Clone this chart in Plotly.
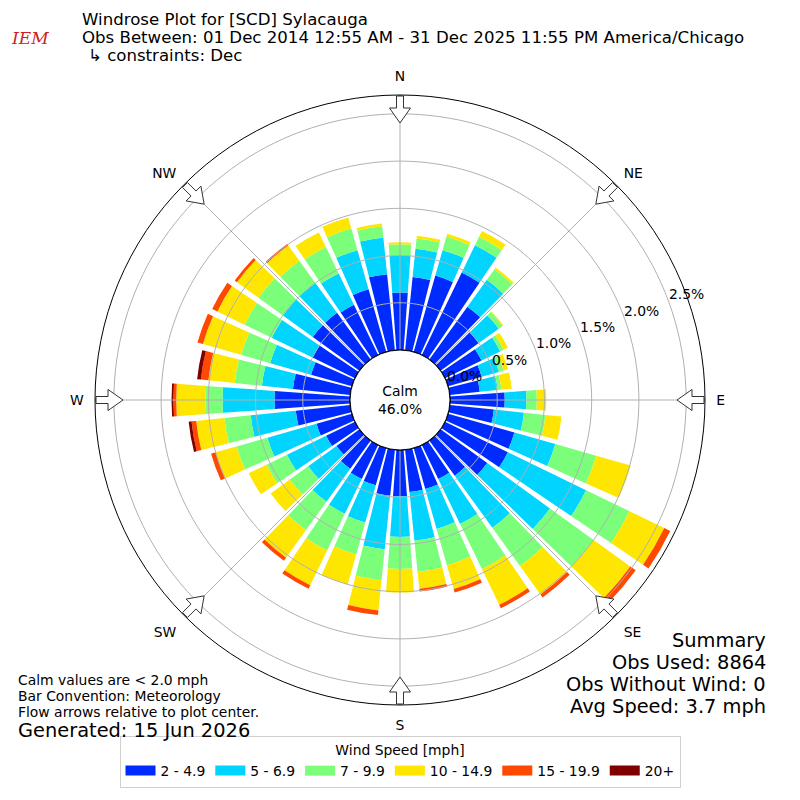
import math
import plotly.graph_objects as go

# ---------------- data ----------------
directions = list(range(0, 360, 10))
speed_bins = ["2 - 4.9", "5 - 6.9", "7 - 9.9", "10 - 14.9", "15 - 19.9", "20+"]
bin_colors = ["#002BFF", "#00D4FF", "#7BFF7B", "#FFE600", "#FF4800", "#800000"]

pct_2_5 = [0.61, 0.78, 0.84, 0.97, 0.69, 0.50, 0.43, 0.37, 0.32, 0.58, 0.47, 0.73,
           0.74, 0.61, 0.46, 0.40, 0.45, 0.45, 0.49, 0.49, 0.41, 0.40, 0.37, 0.30,
           0.34, 0.39, 0.58, 0.80, 0.61, 0.45, 0.50, 0.61, 0.61, 0.59, 0.69, 0.81]
pct_5_7 = [0.39, 0.30, 0.28, 0.32, 0.35, 0.26, 0.22, 0.19, 0.19, 0.23, 0.32, 0.45,
           0.92, 0.82, 0.68, 0.53, 0.44, 0.52, 0.43, 0.57, 0.41, 0.41, 0.43, 0.37,
           0.46, 0.54, 0.48, 0.55, 0.33, 0.45, 0.48, 0.39, 0.39, 0.37, 0.43, 0.39]
pct_7_10 = [0.12, 0.11, 0.15, 0.10, 0.14, 0.05, 0.04, 0.05, 0.04, 0.11, 0.23, 0.45,
            0.51, 0.57, 0.50, 0.53, 0.40, 0.33, 0.34, 0.33, 0.35, 0.43, 0.37, 0.24,
            0.24, 0.34, 0.28, 0.18, 0.29, 0.32, 0.32, 0.32, 0.29, 0.31, 0.24, 0.12]
pct_10_15 = [0.02, 0.03, 0.03, 0.07, 0.02, 0.01, 0.05, 0.05, 0.11, 0.10, 0.17, 0.38,
             0.41, 0.48, 0.37, 0.42, 0.26, 0.18, 0.25, 0.32, 0.33, 0.41, 0.36, 0.25,
             0.21, 0.23, 0.30, 0.31, 0.28, 0.42, 0.32, 0.28, 0.20, 0.17, 0.12, 0.03]
pct_15_20 = [0.00, 0.00, 0.00, 0.00, 0.00, 0.00, 0.00, 0.00, 0.00, 0.00, 0.00, 0.00,
             0.07, 0.07, 0.04, 0.04, 0.04, 0.03, 0.00, 0.05, 0.00, 0.04, 0.04, 0.00,
             0.00, 0.05, 0.05, 0.03, 0.08, 0.06, 0.06, 0.03, 0.02, 0.00, 0.00, 0.00]
pct_20p = [0.00, 0.00, 0.00, 0.00, 0.00, 0.00, 0.00, 0.00, 0.00, 0.00, 0.00, 0.00,
           0.00, 0.00, 0.00, 0.00, 0.00, 0.00, 0.00, 0.00, 0.00, 0.00, 0.00, 0.00,
           0.00, 0.00, 0.03, 0.02, 0.04, 0.00, 0.00, 0.00, 0.00, 0.00, 0.00, 0.00]
series = [pct_2_5, pct_5_7, pct_7_10, pct_10_15, pct_15_20, pct_20p]

radial_ticks = [0.0, 0.5, 1.0, 1.5, 2.0, 2.5]
radial_labels = ["0.0%", "0.5%", "1.0%", "1.5%", "2.0%", "2.5%"]
compass_angles = [0, 45, 90, 135, 180, 225, 270, 315]
compass_labels = ["N", "NE", "E", "SE", "S", "SW", "W", "NW"]

calm_pct = "46.0%"
title_lines = ["Windrose Plot for [SCD] Sylacauga",
               "Obs Between: 01 Dec 2014 12:55 AM - 31 Dec 2025 11:55 PM America/Chicago",
               "\u21b3 constraints: Dec"]
note_lines = ["Calm values are < 2.0 mph", "Bar Convention: Meteorology",
              "Flow arrows relative to plot center."]
generated = "Generated: 15 Jun 2026"
summary_lines = ["Summary", "Obs Used: 8864", "Obs Without Wind: 0", "Avg Speed: 3.7 mph"]

# ---------------- layout constants (page pixels) ----------------
OFF = 8                      # page body margin
FW = FH = 784                # figure size so that it fits the 800px window
CX, CY = 400, 400            # plot center on the page
R_OUT = 305.0
R_HOLE = 50.0
R_MAX = 2.70
PX_PER_UNIT = (R_OUT - R_HOLE) / R_MAX
BAR_WIDTH = 8.3
FONT = "DejaVu Sans"
GRID = "#b0b0b0"
SMALL = 13.9
LABEL_ANGLE = 20.3           # radial labels direction (deg, ccw from east)
LABEL_PUSH = 19              # radial label offset outward (px)


def px(x):
    return (x - OFF) / FW


def py(y):
    return 1 - (y - OFF) / FH


fig = go.Figure()

for name, vals, col in zip(speed_bins, series, bin_colors):
    fig.add_trace(go.Barpolar(
        r=vals, theta=directions, width=[BAR_WIDTH] * len(directions),
        name=name, legendgroup=name, showlegend=False,
        marker=dict(color=col, line=dict(width=0)), hoverinfo="skip"))
    # legend entry drawn as a wide colour patch like the reference
    fig.add_trace(go.Scatterpolar(
        r=[None], theta=[None], mode="lines", name=name, legendgroup=name,
        line=dict(color=col, width=10), hoverinfo="skip"))

# grid circles / spokes drawn above the bars, as in the reference
circ_t = [i * 2 for i in range(181)]
for rv in radial_ticks[1:]:
    fig.add_trace(go.Scatterpolar(r=[rv] * len(circ_t), theta=circ_t, mode="lines",
                                  line=dict(color=GRID, width=1), showlegend=False,
                                  hoverinfo="skip"))
for a in compass_angles:
    fig.add_trace(go.Scatterpolar(r=[0, R_MAX], theta=[a, a], mode="lines",
                                  line=dict(color=GRID, width=1), showlegend=False,
                                  hoverinfo="skip"))
# calm circle edge
fig.add_trace(go.Scatterpolar(r=[0] * len(circ_t), theta=circ_t, mode="lines",
                              line=dict(color="black", width=1.2), showlegend=False,
                              hoverinfo="skip"))


# flow arrows (decoration) pointing to the center
def arrow(theta):
    pts = [(277, 0), (292, 10.5), (292, 3.5), (304, 3.5), (304, -3.5),
           (292, -3.5), (292, -10.5), (277, 0)]
    rr, tt = [], []
    for a, w in pts:
        rp = math.hypot(a, w)
        rr.append((rp - R_HOLE) / PX_PER_UNIT)
        tt.append(theta + math.degrees(math.atan2(w, a)))
    return rr, tt


for a in compass_angles:
    rr, tt = arrow(a)
    fig.add_trace(go.Scatterpolar(r=rr, theta=tt, mode="lines", fill="toself",
                                  fillcolor="white", line=dict(color="#333333", width=1),
                                  showlegend=False, hoverinfo="skip"))

fig.update_layout(
    width=FW, height=FH, margin=dict(l=0, r=0, t=0, b=0),
    paper_bgcolor="white", plot_bgcolor="white",
    font=dict(family=FONT, size=SMALL, color="black"),
    polar=dict(
        domain=dict(x=[px(CX - R_OUT), px(CX + R_OUT)], y=[py(CY + R_OUT), py(CY - R_OUT)]),
        hole=R_HOLE / R_OUT,
        bgcolor="white",
        barmode="stack",
        radialaxis=dict(range=[0, R_MAX], tickvals=radial_ticks, showticklabels=False,
                        showline=False, ticks="", showgrid=False),
        angularaxis=dict(rotation=90, direction="clockwise", tickvals=compass_angles,
                         ticktext=compass_labels, showline=True, linecolor="black",
                         linewidth=1, showgrid=False, ticks="outside", ticklen=8,
                         tickcolor="rgba(0,0,0,0)", tickfont=dict(size=SMALL, color="black")),
    ),
    legend=dict(orientation="h", x=px(400), xanchor="center", y=py(788),
                yanchor="bottom", bordercolor="#d0d0d0", borderwidth=1,
                bgcolor="white", font=dict(size=SMALL), itemwidth=30,
                traceorder="normal", tracegroupgap=0,
                title=dict(text="Wind Speed [mph]", side="top center", font=dict(size=SMALL))),
)

ann = []
for i, t in enumerate(title_lines):
    ann.append(dict(text=t, x=px(80 if i < 2 else 86), y=py(20 + 18 * i),
                    xref="paper", yref="paper", xanchor="left", yanchor="middle",
                    showarrow=False, font=dict(size=16.6)))
ann.append(dict(text="IEM", x=px(30), y=py(38), xref="paper", yref="paper",
                xanchor="center", yanchor="middle", showarrow=False,
                font=dict(size=17, color="#cc2222", family="DejaVu Serif", style="italic")))
for i, t in enumerate(note_lines):
    ann.append(dict(text=t, x=px(16), y=py(680 + 16 * i), xref="paper", yref="paper",
                    xanchor="left", yanchor="middle", showarrow=False, font=dict(size=SMALL)))
ann.append(dict(text=generated, x=px(16), y=py(730), xref="paper", yref="paper",
                xanchor="left", yanchor="middle", showarrow=False, font=dict(size=19.4)))
for i, t in enumerate(summary_lines):
    ann.append(dict(text=t, x=px(768), y=py(640 + 22 * i), xref="paper", yref="paper",
                    xanchor="right", yanchor="middle", showarrow=False, font=dict(size=19.4)))
ann.append(dict(text="Calm<br>" + calm_pct, x=px(CX), y=py(CY), xref="paper", yref="paper",
                xanchor="center", yanchor="middle", showarrow=False, font=dict(size=SMALL)))
# radial tick labels, positioned from the radial scale
ca, sa = math.cos(math.radians(LABEL_ANGLE)), math.sin(math.radians(LABEL_ANGLE))
for v, lab in zip(radial_ticks, radial_labels):
    rp = R_HOLE + v * PX_PER_UNIT + LABEL_PUSH
    ann.append(dict(text=lab, x=px(CX + rp * ca), y=py(CY - rp * sa), xref="paper",
                    yref="paper", xanchor="center", yanchor="middle", showarrow=False,
                    font=dict(size=SMALL)))
fig.update_layout(annotations=ann)

fig.write_html("out.html")
